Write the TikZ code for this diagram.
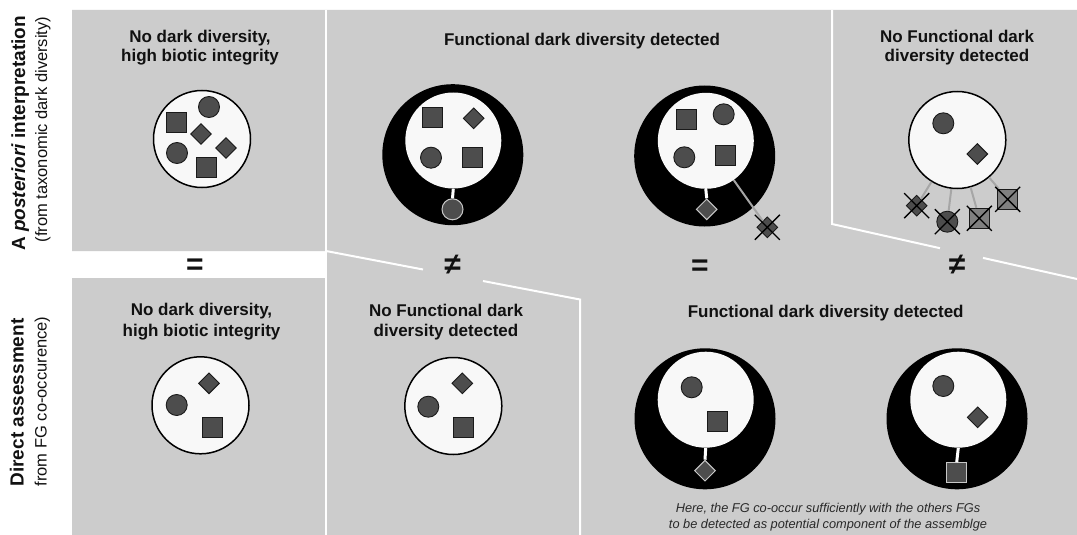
\documentclass[tikz,border=0pt]{standalone}
\usepackage{fontspec}
\setmainfont{Liberation Sans}
\usetikzlibrary{shapes.geometric}
\definecolor{panel}{HTML}{CCCCCC}
\definecolor{fgfill}{HTML}{4D4D4D}
\definecolor{fgline}{HTML}{1A1A1A}
\definecolor{poolfill}{HTML}{F8F8F8}
\definecolor{lnk}{HTML}{A6A6A6}
\definecolor{midfill}{HTML}{808080}
\definecolor{hangline}{HTML}{C8C8C8}
\definecolor{ink}{HTML}{111111}
\newcommand\fgx[1]{\draw[xmark] ([shift={(-12.5,-12.5)}]#1.center) -- ([shift={(12.5,12.5)}]#1.center) ([shift={(-12.5,12.5)}]#1.center) -- ([shift={(12.5,-12.5)}]#1.center);}
\begin{document}
\begin{tikzpicture}[x=1pt,y=-1pt,
  fg/.style={fill=fgfill,draw=fgline,line width=0.9pt,inner sep=0pt},
  sq/.style={fg,rectangle,minimum size=20pt},
  ci/.style={fg,circle,minimum size=21pt},
  di/.style={fg,diamond,minimum width=21pt,minimum height=21pt,aspect=1},
  hang/.style={draw=hangline,line width=1pt},
  pool/.style={circle,fill=poolfill,draw=black,line width=1.5pt,inner sep=0pt,minimum size=97pt},
  ring/.style={circle,fill=black,inner sep=0pt,minimum size=141pt},
  core/.style={circle,fill=poolfill,inner sep=0pt,minimum size=96pt},
  title/.style={font=\fontsize{17}{19}\selectfont\bfseries,text=ink,anchor=base,inner sep=0pt},
  captext/.style={font=\fontsize{12.8}{16}\selectfont\itshape,text=ink!90,anchor=base,inner sep=0pt},
  sym/.style={font=\fontsize{30}{30}\selectfont\bfseries,text=ink,anchor=base,inner sep=0pt},
  sep/.style={white,line width=2pt},
  link/.style={lnk,line width=2pt},
  stem/.style={white,line width=3pt},
  xmark/.style={black,line width=1.3pt},
]
\useasboundingbox (0,0) rectangle (1077,535);
\fill[white] (0,0) rectangle (1077,535);
% panels
\fill[panel] (72,10) -- (1077,10) -- (1077,535) -- (72,535) -- (72,278) -- (326,278) -- (326,251) -- (72,251) -- cycle;
% separators
\draw[sep] (325.5,10) -- (325.5,535);
\draw[sep] (326,251) -- (423,269.5);
\draw[sep] (483,281) -- (580,299.5) -- (580,535);
\draw[sep] (832,10) -- (832,224) -- (940,248.2);
\draw[sep] (983,257.9) -- (1077,279);

% row labels
\node[rotate=90,anchor=base,inner sep=0pt,font=\fontsize{19}{19}\selectfont\bfseries,text=ink] (la1) at (25,133.5) {A \textit{posteriori} interpretation};
\node[rotate=90,anchor=base,inner sep=0pt,font=\fontsize{16.5}{17}\selectfont,text=ink] (la2) at (47,129.5) {(from taxonomic dark diversity)};
\node[rotate=90,anchor=base,inner sep=0pt,font=\fontsize{19}{19}\selectfont\bfseries,text=ink] (lb1) at (23.5,402.5) {Direct assessment};
\node[rotate=90,anchor=base,inner sep=0pt,font=\fontsize{16.5}{17}\selectfont,text=ink] (lb2) at (46.5,401.5) {from FG co-occurence)};

% titles
\node[title] (t1a) at (200,42.3) {No dark diversity,};
\node[title] (t1b) at (200,62) {high biotic integrity};
\node[title] (t2) at (582,46) {Functional dark diversity detected};
\node[title] (t3a) at (957,42.7) {No Functional dark};
\node[title] (t3b) at (957,62) {diversity detected};
\node[title] (t4a) at (201.5,315.7) {No dark diversity,};
\node[title] (t4b) at (201.5,336.7) {high biotic integrity};
\node[title] (t5a) at (446,316) {No Functional dark};
\node[title] (t5b) at (446,336.7) {diversity detected};
\node[title] (t6) at (825.7,317.3) {Functional dark diversity detected};

% comparison symbols
\node[sym] (e1) at (195,274.5) {=};
\node[sym] (n1) at (452.5,274.5) {≠};
\node[sym] (e2) at (700,275.5) {=};
\node[sym] (n2) at (957,274) {≠};

% --- top-left assemblage
\node[pool] (p1) at (202,139) {};
\node[sq] (p1s1) at (176.5,122.5) {};
\node[ci] (p1c1) at (209,107) {};
\node[di] (p1d1) at (201,134) {};
\node[ci] (p1c2) at (177,153) {};
\node[di] (p1d2) at (226,148) {};
\node[sq] (p1s2) at (206,167.5) {};

% --- top-middle A
\node[ring] (r2) at (452.8,154.7) {};
\node[core] (c2) at (453.3,140.5) {};
\node[sq] (c2s1) at (432.7,117.3) {};
\node[di] (c2d1) at (473.7,118.3) {};
\node[ci] (c2c1) at (431,157.7) {};
\node[sq] (c2s2) at (472.7,157.7) {};
\node[ci,hang] (h2) at (452.5,209.3) {};
\draw[stem] (c2.south) -- (h2.north);

% --- top-middle B
\node[ring] (r3) at (704.7,156) {};
\node[core] (c3) at (705.8,140.8) {};
\node[sq] (c3s1) at (686,119.3) {};
\node[ci] (c3c1) at (723.7,114.3) {};
\node[ci] (c3c2) at (684.3,157.3) {};
\node[sq] (c3s2) at (725,155.7) {};
\node[di,hang] (h3) at (706.7,209.3) {};
\draw[stem] (c3.south) -- (h3.north);
\node[di] (x3) at (767.3,227.3) {};
\draw[link] (c3) -- (x3);
\fgx{x3}

% --- top-right
\node[pool] (p4) at (957.3,140) {};
\node[ci] (p4c1) at (943.3,123.3) {};
\node[di] (p4d1) at (977.3,154) {};
\node[di] (x4a) at (916.7,205.7) {};
\node[ci] (x4b) at (947.3,221.7) {};
\node[sq,fill=midfill] (x4c) at (979.3,218.3) {};
\node[sq,fill=midfill] (x4d) at (1007.7,199.3) {};
\draw[link] (p4) -- (x4a);
\draw[link] (p4) -- (x4b);
\draw[link] (p4) -- (x4c);
\draw[link] (p4) -- (x4d);
\fgx{x4a}\fgx{x4b}\fgx{x4c}\fgx{x4d}

% --- bottom-left
\node[pool] (p5) at (200.5,405.3) {};
\node[di] (p5d) at (209,383.3) {};
\node[ci] (p5c) at (176.7,405) {};
\node[sq] (p5s) at (212,427) {};

% --- bottom-middle
\node[pool] (p6) at (453.3,406) {};
\node[di] (p6d) at (462.3,383.3) {};
\node[ci] (p6c) at (428.3,406.7) {};
\node[sq] (p6s) at (463.7,427.7) {};

% --- bottom-right A
\node[ring] (r7) at (705,418.8) {};
\node[core] (c7) at (705.7,399.7) {};
\node[ci] (c7c) at (691.7,387.3) {};
\node[sq] (c7s) at (717.7,421.7) {};
\node[di,hang] (h7) at (705,470.7) {};
\draw[stem] (c7.south) -- (h7.north);

% --- bottom-right B
\node[ring] (r8) at (957,418.8) {};
\node[core] (c8) at (958.3,399.7) {};
\node[ci] (c8c) at (943.3,386) {};
\node[di] (c8d) at (977.7,417.3) {};
\node[sq,hang] (h8) at (956.7,472.7) {};
\draw[stem] (c8.south) -- (h8.north);

% caption
\node[captext] (cap1) at (828,512.3) {Here, the FG co-occur sufficiently with the others FGs};
\node[captext] (cap2) at (828,528.3) {to be detected as potential component of the assemblge};
\end{tikzpicture}
\end{document}
